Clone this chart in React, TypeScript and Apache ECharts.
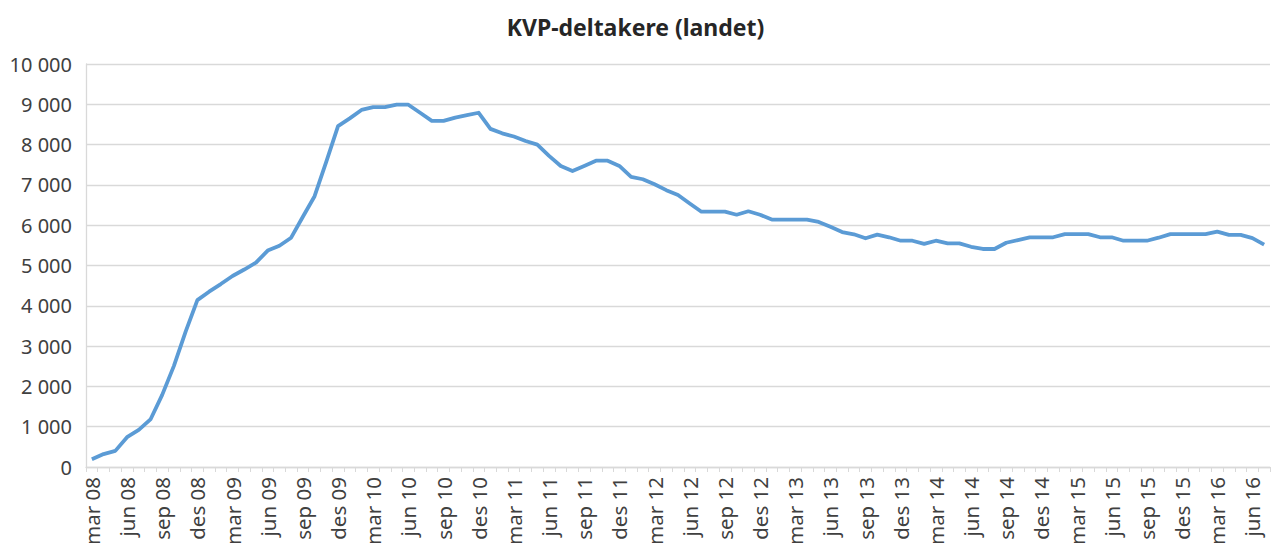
import React, { useEffect, useRef } from "react";
import * as echarts from "echarts";

const TITLE = "KVP-deltakere (landet)";
const MONTHS = ["jan", "feb", "mar", "apr", "mai", "jun", "jul", "aug", "sep", "okt", "nov", "des"];
const START_YEAR = 2008;
const START_MONTH = 2; // mar
const VALUES = [
  190, 320, 400, 740, 920, 1180, 1790, 2510, 3360, 4140,
  4350, 4540, 4740, 4900, 5070, 5370, 5490, 5690, 6210, 6720, 7580, 8460,
  8650, 8860, 8930, 8930, 8990, 8990, 8790, 8590, 8590, 8670, 8730, 8790,
  8390, 8280, 8200, 8090, 8000, 7720, 7470, 7345, 7470, 7600, 7600, 7470,
  7200, 7140, 7015, 6870, 6750, 6540, 6335, 6335, 6335, 6260, 6345, 6260,
  6140, 6140, 6140, 6140, 6080, 5960, 5830, 5775, 5675, 5765, 5700, 5615,
  5615, 5535, 5615, 5550, 5550, 5465, 5410, 5410, 5565, 5630, 5700, 5700,
  5700, 5780, 5780, 5780, 5700, 5700, 5615, 5615, 5615, 5690, 5780, 5780,
  5780, 5780, 5840, 5760, 5760, 5680, 5520,
];
const CATEGORIES = VALUES.map((_, i) => {
  const m = START_MONTH + i;
  const y = START_YEAR + Math.floor(m / 12);
  return `${MONTHS[m % 12]} ${String(y % 100).padStart(2, "0")}`;
});
const Y_MIN = 0;
const Y_MAX = 10000;
const Y_STEP = 1000;

const FONT = "'Noto Sans', sans-serif";

export default function App() {
  const ref = useRef<HTMLDivElement>(null);
  useEffect(() => {
    if (!ref.current) return;
    const chart = echarts.init(ref.current, null, { renderer: "svg" });
    chart.setOption({
      animation: false,
      backgroundColor: "#ffffff",
      title: {
        text: TITLE,
        left: "center",
        top: 10,
        textStyle: { fontFamily: FONT, fontSize: 23, fontWeight: "bold", color: "#262626" },
      },
      grid: {
        left: 86,
        right: 1,
        top: 64,
        bottom: 76,
        containLabel: false,
        outerBoundsMode: "none",
      },
      xAxis: {
        type: "category",
        data: CATEGORIES,
        boundaryGap: true,
        axisLine: { lineStyle: { color: "#d9d9d9", width: 1.3 } },
        axisTick: { show: true, interval: 0, length: 5, lineStyle: { color: "#d9d9d9" } },
        axisLabel: {
          interval: 2,
          rotate: 90,
          margin: 10,
          fontFamily: FONT,
          fontSize: 20.5,
          color: "#404040",
        },
        splitLine: { show: false },
      },
      yAxis: {
        type: "value",
        min: Y_MIN,
        max: Y_MAX,
        interval: Y_STEP,
        axisLine: { show: true, lineStyle: { color: "#d9d9d9", width: 1.3 } },
        axisTick: { show: false },
        axisLabel: {
          margin: 14,
          fontFamily: FONT,
          fontSize: 20,
          color: "#404040",
          formatter: (v: number) => String(v).replace(/\B(?=(\d{3})+(?!\d))/g, " "),
        },
        splitLine: { lineStyle: { color: "#d9d9d9", width: 1.3 } },
      },
      series: [
        {
          type: "line",
          data: VALUES,
          symbol: "none",
          lineStyle: { color: "#5b9bd5", width: 3.8, join: "round" },
          itemStyle: { color: "#5b9bd5" },
        },
      ],
    });
    return () => chart.dispose();
  }, []);
  return (
    <div
      ref={ref}
      style={{ position: "fixed", left: 0, top: 0, width: 1271, height: 543 }}
    />
  );
}
